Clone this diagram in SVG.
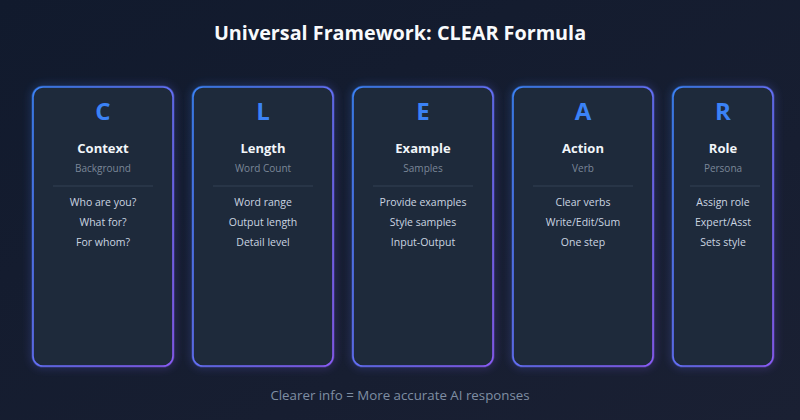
<svg xmlns="http://www.w3.org/2000/svg" width="800" height="420" viewBox="0 0 800 420">
<defs>
<linearGradient id="bg" x1="0" y1="0" x2="1" y2="1">
<stop offset="0" stop-color="#111a2d"/>
<stop offset="1" stop-color="#1a2033"/>
</linearGradient>
<linearGradient id="brd" x1="0" y1="0" x2="1" y2="1">
<stop offset="0" stop-color="#3b82f6"/>
<stop offset="1" stop-color="#8b5cf6"/>
</linearGradient>
<linearGradient id="hr" x1="0" y1="0" x2="1" y2="0">
<stop offset="0" stop-color="#2a3649" stop-opacity="0.5"/>
<stop offset="0.5" stop-color="#334155"/>
<stop offset="1" stop-color="#2a3649" stop-opacity="0.5"/>
</linearGradient>
<filter id="glow" x="-30%" y="-30%" width="160%" height="160%">
<feGaussianBlur in="SourceGraphic" stdDeviation="4" result="b"/>
<feMerge><feMergeNode in="b"/><feMergeNode in="SourceGraphic"/></feMerge>
</filter>
</defs>
<style>
text{font-family:"Source Sans Pro","Open Sans","Noto Sans",sans-serif;text-anchor:middle}
.card{fill:#1e2a3b;stroke:url(#brd);stroke-width:1.6}
.glow{fill:none;stroke:url(#brd);stroke-width:3;opacity:0.45;filter:url(#glow)}
.letter{font-size:24px;font-weight:700;fill:#3b82f6}
.name{font-size:13px;font-weight:700;fill:#f1f5f9}
.sub{font-size:10px;fill:#7b8798}
.sep{stroke:#334155;stroke-width:1}
.item{font-size:10.5px;fill:#cbd5e1}
</style>
<rect width="800" height="420" fill="url(#bg)"/>
<text x="400" y="40" style="font-size:19.8px;font-weight:700;fill:#f8fafc">Universal Framework: CLEAR Formula</text>
<line x1="133" y1="60" x2="667" y2="60" stroke="url(#hr)" stroke-width="1.5"/>
<g id="node-c">
<rect class="glow" x="33" y="87" width="140" height="279" rx="10"/>
<rect class="card" x="33" y="87" width="140" height="279" rx="10"/>
<text class="letter" x="103" y="120">C</text>
<text class="name" x="103" y="153">Context</text>
<text class="sub" x="103" y="172">Background</text>
<line class="sep" x1="53" y1="186" x2="153" y2="186"/>
<text class="item" x="103" y="206">Who are you?</text>
<text class="item" x="103" y="226">What for?</text>
<text class="item" x="103" y="246">For whom?</text>
</g>
<g id="node-l">
<rect class="glow" x="193" y="87" width="140" height="279" rx="10"/>
<rect class="card" x="193" y="87" width="140" height="279" rx="10"/>
<text class="letter" x="263" y="120">L</text>
<text class="name" x="263" y="153">Length</text>
<text class="sub" x="263" y="172">Word Count</text>
<line class="sep" x1="213" y1="186" x2="313" y2="186"/>
<text class="item" x="263" y="206">Word range</text>
<text class="item" x="263" y="226">Output length</text>
<text class="item" x="263" y="246">Detail level</text>
</g>
<g id="node-e">
<rect class="glow" x="353" y="87" width="140" height="279" rx="10"/>
<rect class="card" x="353" y="87" width="140" height="279" rx="10"/>
<text class="letter" x="423" y="120">E</text>
<text class="name" x="423" y="153">Example</text>
<text class="sub" x="423" y="172">Samples</text>
<line class="sep" x1="373" y1="186" x2="473" y2="186"/>
<text class="item" x="423" y="206">Provide examples</text>
<text class="item" x="423" y="226">Style samples</text>
<text class="item" x="423" y="246">Input-Output</text>
</g>
<g id="node-a">
<rect class="glow" x="513" y="87" width="140" height="279" rx="10"/>
<rect class="card" x="513" y="87" width="140" height="279" rx="10"/>
<text class="letter" x="583" y="120">A</text>
<text class="name" x="583" y="153">Action</text>
<text class="sub" x="583" y="172">Verb</text>
<line class="sep" x1="533" y1="186" x2="633" y2="186"/>
<text class="item" x="583" y="206">Clear verbs</text>
<text class="item" x="583" y="226">Write/Edit/Sum</text>
<text class="item" x="583" y="246">One step</text>
</g>
<g id="node-r">
<rect class="glow" x="673" y="87" width="100" height="279" rx="10"/>
<rect class="card" x="673" y="87" width="100" height="279" rx="10"/>
<text class="letter" x="723" y="120">R</text>
<text class="name" x="723" y="153">Role</text>
<text class="sub" x="723" y="172">Persona</text>
<line class="sep" x1="690" y1="186" x2="760" y2="186"/>
<text class="item" x="723" y="206">Assign role</text>
<text class="item" x="723" y="226">Expert/Asst</text>
<text class="item" x="723" y="246">Sets style</text>
</g>
<g id="connectors"/>
<text x="400" y="400" style="font-size:13.3px;fill:#7f8ea3">Clearer info = More accurate AI responses</text>
</svg>
